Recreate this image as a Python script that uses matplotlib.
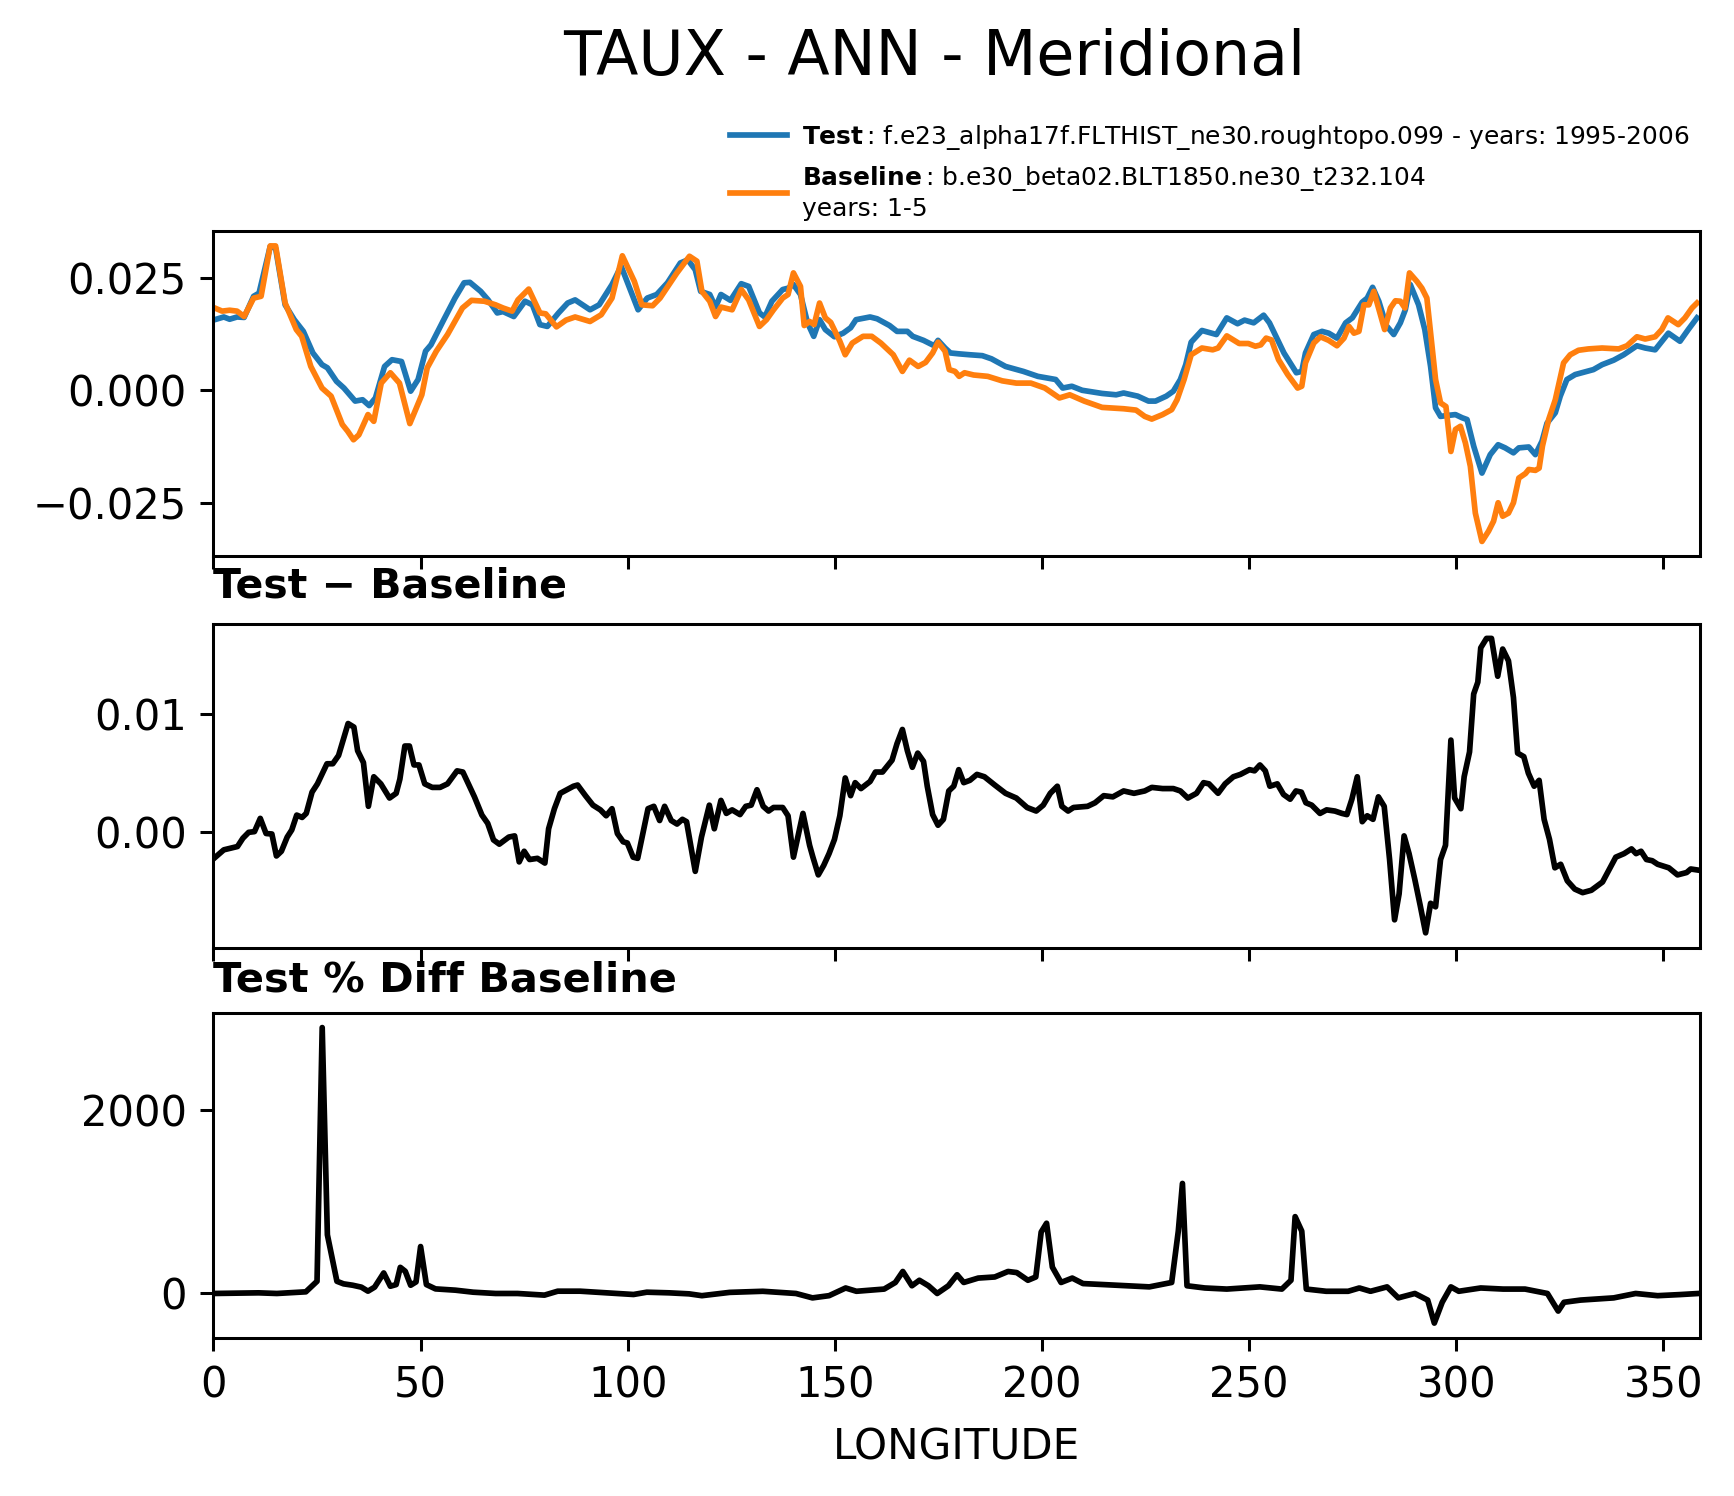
import matplotlib
matplotlib.use("Agg")
import matplotlib.pyplot as plt

# ---------------- data ----------------
test_lon = [0.3, 2.5, 3.9, 5.7, 7.4, 9.7, 11.0, 13.7, 15.0, 17.3, 19.5, 21.7, 24.0, 26.2, 27.5, 29.7,
            31.5, 34.2, 36.0, 37.6, 39.1, 41.3, 43.1, 45.4, 47.6, 49.4, 51.2, 52.5, 55.6, 58.3, 60.5,
            61.9, 64.5, 66.3, 68.5, 69.9, 72.5, 75.2, 77.0, 78.8, 80.6, 83.3, 85.5, 87.3, 90.9, 93.1,
            96.2, 98.4, 102.5, 104.7, 107.0, 109.6, 112.7, 114.5, 116.3, 117.6, 119.8, 121.2, 122.5,
            124.8, 127.4, 129.2, 131.8, 133.1, 134.8, 137.4, 138.7, 140.0, 141.7, 143.4, 144.9, 146.3,
            147.7, 149.9, 152.0, 153.8, 155.1, 158.5, 160.2, 163.2, 165.0, 167.5, 168.8, 171.4, 174.0,
            174.9, 176.6, 177.9, 180.0, 182.6, 185.6, 187.8, 191.2, 195.5, 199.0, 203.3, 205.0, 207.2,
            209.7, 214.5, 217.9, 219.7, 223.1, 225.7, 227.4, 230.0, 231.7, 233.4, 234.7, 236.0, 238.6,
            242.1, 244.6, 247.2, 248.9, 251.1, 253.5, 254.9, 258.4, 261.4, 262.7, 263.6, 265.6, 267.6,
            269.2, 271.2, 273.3, 274.9, 277.3, 278.5, 279.8, 281.3, 283.1, 284.9, 286.5, 287.7, 288.9,
            290.9, 292.4, 293.8, 295.0, 296.2, 297.8, 299.8, 301.4, 302.6, 304.2, 306.2, 308.2, 310.1,
            311.8, 313.8, 315.1, 317.5, 319.1, 320.7, 321.9, 323.9, 325.1, 326.7, 328.7, 331.5, 333.1,
            335.2, 338.0, 340.4, 343.6, 345.6, 348.0, 351.2, 354.0, 356.0, 358.1]
test_val = [0.0157, 0.0163, 0.0158, 0.0163, 0.0162, 0.0209, 0.0216, 0.0320, 0.0316, 0.0190, 0.0157,
            0.0131, 0.0083, 0.0057, 0.0050, 0.0020, 0.0005, -0.0024, -0.0021, -0.0034, -0.0017, 0.0053,
            0.0068, 0.0064, -0.0002, 0.0024, 0.0087, 0.0101, 0.0157, 0.0205, 0.0239, 0.0240, 0.0220,
            0.0201, 0.0172, 0.0175, 0.0164, 0.0198, 0.0190, 0.0146, 0.0142, 0.0172, 0.0194, 0.0201,
            0.0179, 0.0190, 0.0235, 0.0276, 0.0179, 0.0205, 0.0213, 0.0239, 0.0283, 0.0290, 0.0268,
            0.0220, 0.0213, 0.0185, 0.0213, 0.0200, 0.0237, 0.0231, 0.0172, 0.0163, 0.0198, 0.0224,
            0.0227, 0.0235, 0.0213, 0.0150, 0.0120, 0.0157, 0.0135, 0.0119, 0.0127, 0.0139, 0.0157,
            0.0163, 0.0159, 0.0144, 0.0131, 0.0131, 0.0120, 0.0111, 0.0099, 0.0111, 0.0094, 0.0083,
            0.0081, 0.0079, 0.0077, 0.0070, 0.0053, 0.0042, 0.0031, 0.0024, 0.0005, 0.0009, 0.0000,
            -0.0007, -0.0010, -0.0006, -0.0013, -0.0024, -0.0024, -0.0013, -0.0002, 0.0024, 0.0057,
            0.0107, 0.0133, 0.0124, 0.0161, 0.0148, 0.0156, 0.0150, 0.0167, 0.0150, 0.0083, 0.0039,
            0.0042, 0.0083, 0.0124, 0.0131, 0.0127, 0.0116, 0.0150, 0.0161, 0.0196, 0.0205, 0.0229,
            0.0198, 0.0144, 0.0124, 0.0150, 0.0179, 0.0235, 0.0190, 0.0135, 0.0053, -0.0039, -0.0058,
            -0.0056, -0.0054, -0.0061, -0.0065, -0.0124, -0.0184, -0.0143, -0.0121, -0.0128, -0.0139,
            -0.0128, -0.0126, -0.0143, -0.0113, -0.0073, -0.0050, -0.0013, 0.0024, 0.0035, 0.0042,
            0.0046, 0.0057, 0.0067, 0.0079, 0.0099, 0.0094, 0.0090, 0.0127, 0.0109, 0.0135, 0.0161]

base_lon = [0.3, 2.1, 3.9, 5.7, 7.4, 9.7, 11.5, 13.7, 15.0, 17.3, 20.0, 21.3, 23.5, 26.2, 28.4, 31.1,
            32.4, 33.8, 35.1, 37.3, 38.7, 40.5, 42.7, 44.9, 47.4, 50.3, 51.6, 53.8, 56.5, 60.1, 62.3,
            65.4, 68.1, 69.9, 72.1, 73.5, 76.1, 78.8, 80.2, 82.8, 85.1, 87.3, 90.9, 93.6, 96.2, 98.7,
            101.6, 103.4, 106.0, 107.8, 111.8, 114.9, 116.7, 117.9, 119.8, 121.2, 122.5, 125.2, 127.4,
            129.2, 131.8, 133.5, 135.2, 137.4, 138.7, 140.0, 141.7, 142.6, 143.9, 145.0, 146.3, 147.7,
            149.0, 151.2, 152.5, 154.2, 156.8, 158.9, 161.1, 164.1, 166.3, 168.0, 170.1, 171.9, 173.6,
            174.9, 176.6, 177.6, 179.0, 180.0, 181.3, 183.5, 186.9, 190.4, 193.8, 197.3, 200.7, 204.2,
            206.7, 210.2, 214.5, 219.7, 222.7, 224.8, 226.5, 229.1, 231.3, 232.6, 234.3, 236.0, 238.6,
            241.2, 242.5, 244.6, 247.6, 249.8, 251.5, 252.8, 254.1, 255.4, 257.1, 259.3, 261.7, 262.7,
            263.6, 265.6, 267.2, 269.2, 271.2, 272.9, 274.1, 275.3, 276.5, 277.7, 278.9, 280.1, 282.7,
            284.1, 285.3, 286.5, 287.6, 288.7, 290.5, 291.7, 292.9, 293.8, 295.0, 296.2, 297.5, 298.7,
            299.8, 301.0, 302.2, 303.4, 304.6, 306.2, 307.8, 309.0, 310.1, 311.2, 312.6, 313.8, 315.1,
            316.7, 317.5, 319.1, 320.0, 320.8, 322.3, 323.9, 325.9, 327.5, 329.5, 331.9, 335.2, 339.2,
            341.2, 343.6, 345.6, 348.0, 349.6, 351.1, 353.6, 355.2, 356.9, 358.1]
base_val = [0.0183, 0.0176, 0.0178, 0.0176, 0.0164, 0.0205, 0.0209, 0.0321, 0.0321, 0.0194, 0.0135,
            0.0120, 0.0053, 0.0005, -0.0013, -0.0076, -0.0091, -0.0110, -0.0099, -0.0054, -0.0069,
            0.0016, 0.0039, 0.0016, -0.0074, -0.0010, 0.0050, 0.0087, 0.0124, 0.0183, 0.0200, 0.0198,
            0.0190, 0.0183, 0.0176, 0.0201, 0.0225, 0.0172, 0.0170, 0.0141, 0.0156, 0.0163, 0.0153,
            0.0168, 0.0205, 0.0299, 0.0242, 0.0190, 0.0188, 0.0205, 0.0260, 0.0298, 0.0287, 0.0220,
            0.0198, 0.0164, 0.0185, 0.0179, 0.0224, 0.0201, 0.0142, 0.0157, 0.0179, 0.0205, 0.0213,
            0.0261, 0.0231, 0.0144, 0.0153, 0.0146, 0.0194, 0.0161, 0.0151, 0.0109, 0.0079, 0.0105,
            0.0120, 0.0120, 0.0105, 0.0079, 0.0042, 0.0067, 0.0053, 0.0062, 0.0083, 0.0107, 0.0087,
            0.0046, 0.0042, 0.0031, 0.0039, 0.0034, 0.0031, 0.0021, 0.0016, 0.0016, 0.0005, -0.0017,
            -0.0010, -0.0024, -0.0038, -0.0041, -0.0044, -0.0058, -0.0064, -0.0054, -0.0043, -0.0021,
            0.0024, 0.0079, 0.0094, 0.0090, 0.0094, 0.0121, 0.0104, 0.0104, 0.0098, 0.0101, 0.0116,
            0.0112, 0.0068, 0.0035, 0.0005, 0.0009, 0.0061, 0.0105, 0.0119, 0.0111, 0.0099, 0.0116,
            0.0142, 0.0127, 0.0131, 0.0190, 0.0190, 0.0220, 0.0135, 0.0183, 0.0199, 0.0198, 0.0183,
            0.0261, 0.0242, 0.0227, 0.0205, 0.0127, 0.0024, -0.0028, -0.0036, -0.0136, -0.0087, -0.0080,
            -0.0117, -0.0169, -0.0273, -0.0336, -0.0313, -0.0291, -0.0250, -0.0280, -0.0273, -0.0250,
            -0.0195, -0.0185, -0.0176, -0.0178, -0.0173, -0.0124, -0.0065, -0.0021, 0.0061, 0.0079,
            0.0089, 0.0092, 0.0094, 0.0092, 0.0099, 0.0119, 0.0114, 0.0119, 0.0135, 0.0161, 0.0146,
            0.0161, 0.0183, 0.0194]

diff_lon = [0.2, 2.5, 4.8, 5.8, 7.1, 8.5, 9.9, 11.3, 12.7, 14.1, 15.2, 16.4, 17.8, 18.9, 20.1, 21.4,
            22.4, 23.8, 25.1, 27.4, 28.8, 30.2, 32.5, 33.9, 34.8, 36.2, 37.4, 38.7, 40.4, 42.5, 44.1,
            45.0, 46.2, 47.3, 48.4, 49.6, 51.0, 52.8, 54.7, 56.5, 58.8, 60.2, 63.0, 64.8, 66.2, 67.6,
            69.0, 71.3, 72.7, 73.8, 75.0, 76.3, 78.2, 80.0, 80.9, 82.3, 83.7, 86.9, 87.9, 89.8, 91.6,
            93.4, 94.8, 96.2, 97.5, 98.9, 99.9, 101.3, 102.4, 104.9, 106.3, 107.7, 108.9, 110.5, 111.9,
            113.2, 114.2, 116.3, 117.8, 119.7, 120.9, 122.5, 123.8, 125.2, 127.1, 128.5, 129.8, 131.2,
            132.7, 134.0, 135.2, 137.4, 138.7, 140.0, 142.3, 143.9, 144.7, 146.0, 147.3, 148.6, 149.9,
            151.2, 152.5, 153.8, 154.9, 156.3, 158.5, 159.8, 161.5, 163.8, 165.0, 166.3, 167.5, 168.7,
            170.0, 171.4, 172.3, 173.6, 174.9, 176.2, 177.5, 178.7, 179.9, 181.1, 182.6, 184.3, 186.1,
            188.6, 191.2, 193.8, 196.4, 198.6, 200.3, 202.0, 203.7, 204.8, 206.3, 207.6, 211.0, 212.8,
            214.9, 217.1, 219.7, 222.2, 224.8, 226.5, 229.1, 231.7, 233.4, 235.2, 237.3, 239.0, 240.3,
            242.5, 244.2, 246.2, 247.9, 250.1, 251.3, 252.6, 253.9, 255.0, 256.8, 258.3, 259.9, 261.3,
            262.6, 263.7, 265.1, 267.1, 268.7, 270.7, 272.4, 273.6, 274.8, 276.1, 277.3, 278.5, 279.9,
            281.2, 282.6, 283.9, 285.1, 286.2, 287.4, 288.6, 290.0, 291.3, 292.6, 293.8, 295.0, 296.2,
            297.4, 298.7, 299.6, 301.1, 301.9, 303.2, 304.2, 305.2, 305.9, 307.3, 308.5, 310.0, 311.2,
            312.6, 313.8, 314.8, 316.3, 317.4, 318.8, 320.0, 321.2, 322.5, 323.8, 325.2, 326.8, 328.6,
            330.5, 332.6, 335.3, 338.5, 340.5, 342.3, 343.4, 344.6, 345.9, 347.3, 348.6, 351.3, 353.4,
            355.6, 356.6, 358.5]
diff_val = [-0.00218, -0.00148, -0.00129, -0.00120, -0.00050, 0.00000, 0.00006, 0.00118, -0.00010,
            -0.00014, -0.00200, -0.00160, -0.00040, 0.00020, 0.00146, 0.00126, 0.00160, 0.00340,
            0.00410, 0.00580, 0.00580, 0.00650, 0.00920, 0.00890, 0.00690, 0.00590, 0.00220, 0.00470,
            0.00410, 0.00290, 0.00330, 0.00450, 0.00730, 0.00730, 0.00570, 0.00570, 0.00410, 0.00380,
            0.00380, 0.00410, 0.00520, 0.00510, 0.00300, 0.00146, 0.00076, -0.00064, -0.00100, -0.00040,
            -0.00030, -0.00250, -0.00160, -0.00230, -0.00220, -0.00260, 0.00030, 0.00200, 0.00330,
            0.00390, 0.00400, 0.00310, 0.00230, 0.00190, 0.00140, 0.00200, -0.00010, -0.00080, -0.00090,
            -0.00210, -0.00220, 0.00200, 0.00220, 0.00100, 0.00220, 0.00100, 0.00070, 0.00110, 0.00090,
            -0.00330, -0.00040, 0.00230, 0.00030, 0.00270, 0.00160, 0.00190, 0.00150, 0.00220, 0.00230,
            0.00360, 0.00220, 0.00180, 0.00210, 0.00210, 0.00140, -0.00210, 0.00160, -0.00110, -0.00210,
            -0.00360, -0.00280, -0.00180, -0.00060, 0.00140, 0.00460, 0.00310, 0.00420, 0.00370, 0.00430,
            0.00510, 0.00510, 0.00610, 0.00750, 0.00870, 0.00690, 0.00550, 0.00670, 0.00600, 0.00390,
            0.00150, 0.00060, 0.00110, 0.00350, 0.00390, 0.00530, 0.00420, 0.00440, 0.00490, 0.00470,
            0.00400, 0.00330, 0.00290, 0.00210, 0.00180, 0.00230, 0.00330, 0.00390, 0.00220, 0.00180,
            0.00210, 0.00220, 0.00250, 0.00310, 0.00300, 0.00350, 0.00330, 0.00350, 0.00380, 0.00370,
            0.00370, 0.00350, 0.00290, 0.00330, 0.00420, 0.00410, 0.00330, 0.00410, 0.00470, 0.00490,
            0.00530, 0.00520, 0.00570, 0.00520, 0.00390, 0.00410, 0.00320, 0.00280, 0.00350, 0.00340,
            0.00250, 0.00230, 0.00160, 0.00190, 0.00180, 0.00160, 0.00150, 0.00280, 0.00470, 0.00090,
            0.00140, 0.00110, 0.00300, 0.00220, -0.00230, -0.00740, -0.00520, -0.00030, -0.00180,
            -0.00400, -0.00620, -0.00850, -0.00600, -0.00630, -0.00230, -0.00110, 0.00780, 0.00290,
            0.00200, 0.00470, 0.00680, 0.01170, 0.01270, 0.01560, 0.01640, 0.01640, 0.01320, 0.01550,
            0.01450, 0.01140, 0.00670, 0.00640, 0.00500, 0.00390, 0.00440, 0.00110, -0.00060, -0.00300,
            -0.00270, -0.00410, -0.00480, -0.00510, -0.00490, -0.00420, -0.00210, -0.00180, -0.00140,
            -0.00180, -0.00160, -0.00230, -0.00240, -0.00270, -0.00300, -0.00360, -0.00340, -0.00310,
            -0.00320]

pct_lon = [0.0, 10.9, 15.3, 22.3, 25.0, 26.25, 27.5, 29.8, 31.4, 33.6, 35.7, 37.3, 38.9, 41.1, 42.7,
           44.1, 45.1, 46.3, 47.6, 48.9, 50.0, 51.4, 53.6, 58.4, 62.7, 68.1, 73.4, 79.9, 83.1, 88.5,
           94.9, 101.4, 104.6, 110.0, 114.8, 117.9, 124.6, 132.6, 140.6, 144.6, 148.6, 152.6, 155.2,
           161.9, 164.6, 166.4, 168.6, 170.4, 172.6, 174.7, 177.4, 179.5, 181.1, 184.6, 188.6, 191.8,
           193.9, 196.6, 198.5, 199.8, 201.1, 202.5, 204.6, 207.3, 209.9, 215.3, 220.6, 225.9, 231.3,
           232.9, 233.9, 235.0, 239.3, 244.6, 252.6, 257.9, 260.1, 261.1, 262.7, 263.8, 268.6, 273.9,
           276.6, 279.3, 283.3, 286.0, 290.0, 293.1, 294.7, 296.6, 298.7, 300.6, 305.9, 311.3, 316.6,
           322.0, 324.6, 326.0, 330.0, 338.0, 343.3, 348.6, 354.0, 358.5]
pct_val = [0, 7, 0, 18, 133, 2900, 640, 133, 105, 90, 69, 25, 69, 224, 79, 97, 285, 242, 90, 126, 512,
           97, 50, 36, 14, 0, 0, -18, 25, 25, 7, -11, 14, 7, -4, -24, 12, 24, 0, -48, -24, 60, 24, 48,
           120, 240, 84, 144, 84, 0, 84, 204, 120, 168, 180, 240, 228, 144, 180, 670, 766, 287, 120,
           168, 108, 96, 84, 72, 120, 680, 1200, 84, 60, 48, 72, 48, 144, 838, 680, 48, 24, 24, 60, 24,
           72, -48, 0, -72, -323, -96, 72, 24, 60, 48, 48, 0, -192, -96, -72, -48, 0, -24, -12, 0]

xticks = [0, 50, 100, 150, 200, 250, 300, 350]
suptitle = "TAUX - ANN - Meridional"
test_label = "$\\bf{Test}\\,$: f.e23_alpha17f.FLTHIST_ne30.roughtopo.099 - years: 1995-2006"
base_label = "$\\bf{Baseline}\\,$: b.e30_beta02.BLT1850.ne30_t232.104\nyears: 1-5"

# ---------------- figure ----------------
DPI = 273
fig = plt.figure(figsize=(1734 / DPI, 1496 / DPI), dpi=DPI)

left, width = 0.1231, 0.8571
ax1 = fig.add_axes([left, 0.6282, width, 0.2173])
ax2 = fig.add_axes([left, 0.3666, width, 0.2165], sharex=ax1)
ax3 = fig.add_axes([left, 0.1057, width, 0.2173], sharex=ax1)

lw = 1.5
l1, = ax1.plot(test_lon, test_val, color="#1f77b4", lw=lw, label=test_label)
l2, = ax1.plot(base_lon, base_val, color="#ff7f0e", lw=lw, label=base_label)
ax2.plot(diff_lon, diff_val, color="black", lw=lw)
ax3.plot(pct_lon, pct_val, color="black", lw=lw)

ax1.set_xlim(0, 358.75)
ax1.set_xticks(xticks)
ax1.set_yticks([-0.025, 0.0, 0.025])
ax2.set_yticks([0.0, 0.01])
ax3.set_yticks([0, 2000])

for ax in (ax1, ax2, ax3):
    ax.tick_params(labelsize=11)
for ax in (ax1, ax2):
    ax.tick_params(labelbottom=False)

ax2.set_title("Test \u2212 Baseline", loc="left", fontsize=10.8, fontweight="bold", pad=6.8)
ax3.set_title("Test % Diff Baseline", loc="left", fontsize=10.95, fontweight="bold", pad=5.5)
ax3.set_xlabel("LONGITUDE", fontsize=11.1, labelpad=5.2)

fig.suptitle(suptitle, x=0.539, y=0.961, va="center", fontsize=16.3)

fig.legend(handles=[l1, l2], loc="upper left", bbox_to_anchor=(0.421, 0.918),
           frameon=False, fontsize=6.55, handlelength=2.3, handletextpad=0.6,
           borderpad=0, borderaxespad=0, labelspacing=0.5)

fig.savefig("out.png", dpi=DPI)
